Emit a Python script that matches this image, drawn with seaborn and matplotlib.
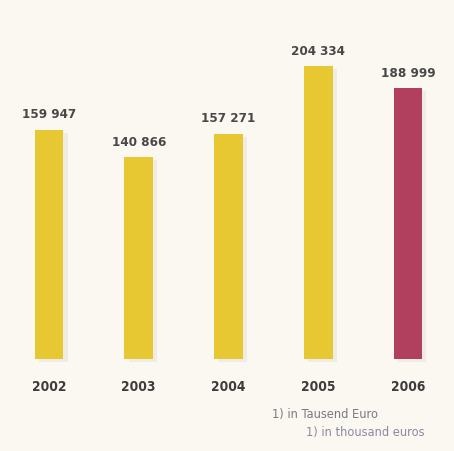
import matplotlib
matplotlib.use("Agg")
import matplotlib.pyplot as plt
import matplotlib.patheffects as pe
import seaborn as sns
import pandas as pd

years = ["2002", "2003", "2004", "2005", "2006"]
values = [159947, 140866, 157271, 204334, 188999]
labels = ["159 947", "140 866", "157 271", "204 334", "188 999"]
colors = ["#E8C832", "#E8C832", "#E8C832", "#E8C832", "#B0405E"]
footnote_de = "1) in Tausend Euro"
footnote_en = "1) in thousand euros"

bg = "#FBF8F1"
sns.set_theme(style="white")
plt.rcParams["font.family"] = ["DejaVu Sans"]

df = pd.DataFrame({"year": years, "value": values})

fig = plt.figure(figsize=(4.54, 4.52), dpi=100, facecolor=bg)
ax = fig.add_axes([0, 0, 1, 1])
ax.set_facecolor(bg)

sns.barplot(data=df, x="year", y="value", hue="year", palette=colors,
            width=0.32, legend=False, ax=ax, saturation=1, linewidth=0)

for p in ax.patches:
    p.set_path_effects([pe.SimplePatchShadow(offset=(3, -2), shadow_rgbFace="#999999", alpha=0.12),
                        pe.Normal()])

ax.set_xlim(-0.546, 4.513)
ax.set_ylim(-64246, 251397)

for i, (v, lab) in enumerate(zip(values, labels)):
    ax.text(i, v + 11200, lab, ha="center", va="center", fontsize=9.6,
            fontweight="bold", fontstretch="condensed", color="#484848")
    ax.text(i, -18900, years[i], ha="center", va="center", fontsize=9.8,
            fontweight="bold", fontstretch="condensed", color="#3c3c3c")

ax.text(272 / 454, 1 - 415 / 452, footnote_de, transform=ax.transAxes,
        ha="left", va="center", fontsize=9.2, fontstretch="condensed", color="#7a7a82")
ax.text(424 / 454, 1 - 433 / 452, footnote_en, transform=ax.transAxes,
        ha="right", va="center", fontsize=9.2, fontstretch="condensed", color="#8a8aa2")

ax.axis("off")
fig.savefig("out.png", dpi=100, facecolor=bg)
